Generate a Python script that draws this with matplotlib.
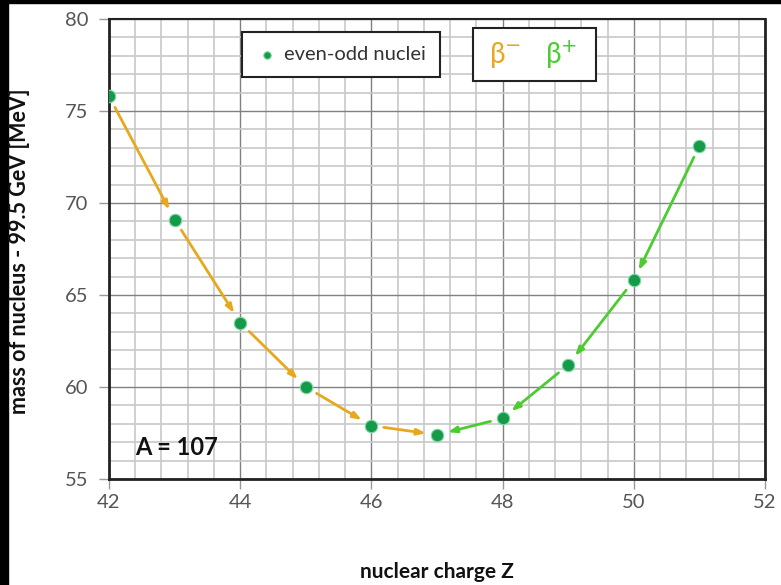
import numpy as np
import matplotlib.pyplot as plt
from matplotlib.patches import Rectangle
from matplotlib.ticker import MultipleLocator

# even-odd nuclei, A = 107
z = [42, 43, 44, 45, 46, 47, 48, 49, 50, 51]
mass = [75.8, 69.1, 63.5, 60.0, 57.9, 57.4, 58.3, 61.2, 65.8, 73.1]

beta_minus = [0, 1, 2, 3, 4]      # arrows i -> i+1
beta_plus = [9, 8, 7, 6]          # arrows i -> i-1

orange = "#E8A81E"
green = "#4CCC30"
dot = "#159A4A"

plt.rcParams['font.family'] = ['Lato', 'DejaVu Sans']

fig = plt.figure(figsize=(7.81, 5.85), dpi=100)
fig.patch.set_facecolor("white")
# dark slide background strips
fig.patches.append(Rectangle((0, 0), 8 / 781, 1, transform=fig.transFigure,
                             color="black", zorder=0))
fig.patches.append(Rectangle((0, 1 - 3 / 585), 1, 3 / 585, transform=fig.transFigure,
                             color="black", zorder=0))

ax = fig.add_axes([109 / 781, 1 - 479 / 585, (765 - 109) / 781, (479 - 19) / 585])
ax.set_xlim(42, 52)
ax.set_ylim(55, 80)

ax.xaxis.set_major_locator(MultipleLocator(2))
ax.xaxis.set_minor_locator(MultipleLocator(0.4))
ax.yaxis.set_major_locator(MultipleLocator(5))
ax.yaxis.set_minor_locator(MultipleLocator(1))
ax.grid(which="minor", color="#c8c8c8", linewidth=1.2)
ax.grid(which="major", color="#808080", linewidth=1.0)
ax.set_axisbelow(True)

for s in ax.spines.values():
    s.set_linewidth(2)
    s.set_color("#222222")
ax.spines["top"].set_linewidth(1.5)

ax.tick_params(which="major", length=7, width=1, color="#999999",
               labelsize=14.5, labelcolor="#555555")
ax.tick_params(axis="y", pad=8)
ax.tick_params(axis="x", pad=4)
ax.tick_params(which="minor", length=0)

# decay arrows
for i in beta_minus:
    ax.annotate("", xy=(z[i + 1], mass[i + 1]), xytext=(z[i], mass[i]),
                arrowprops=dict(arrowstyle="-|>,head_length=0.5,head_width=0.18",
                                color=orange, lw=2, shrinkA=9, shrinkB=8))
for i in beta_plus:
    ax.annotate("", xy=(z[i - 1], mass[i - 1]), xytext=(z[i], mass[i]),
                arrowprops=dict(arrowstyle="-|>,head_length=0.5,head_width=0.18",
                                color=green, lw=2, shrinkA=9, shrinkB=8))

pts = ax.scatter(z, mass, s=80, color=dot, edgecolor="#7fd9a0", linewidth=0.8,
                 zorder=5, label="even-odd nuclei")

leg = ax.legend(handles=[pts], loc="upper left",
                bbox_to_anchor=((242 - 109) / 656, 1 - (32 - 19) / 460),
                fancybox=False, framealpha=1, edgecolor="#222222", fontsize=14.5,
                handletextpad=0.3, borderpad=0.7, borderaxespad=0,
                markerscale=0.6, handlelength=1.1)
leg.get_frame().set_linewidth(1.5)
for t in leg.get_texts():
    t.set_color("#333333")

# beta box
ax.add_patch(Rectangle(((473 - 109) / 656, 1 - (81 - 19) / 460), 123 / 656, 53 / 460,
                       transform=ax.transAxes, facecolor="white", edgecolor="#222222",
                       linewidth=1.5, zorder=6))
ax.text((489 - 109) / 656, 1 - (55 - 19) / 460, "β$^{-}$", color=orange, fontsize=20,
        transform=ax.transAxes, va="center", zorder=7)
ax.text((545 - 109) / 656, 1 - (55 - 19) / 460, "β$^{+}$", color=green, fontsize=20,
        transform=ax.transAxes, va="center", zorder=7)

ax.text(42.4, 56.3, "A = 107", fontsize=17, fontweight="bold", color="#111111", zorder=7)

fig.text(437 / 781, 1 - 572 / 585, "nuclear charge Z", fontsize=15, fontweight="bold",
         color="#111111", ha="center", va="center")
fig.text(20 / 781, 1 - 251 / 585, "mass of nucleus - 99.5 GeV [MeV]", fontsize=15.5,
         fontweight="bold", color="#111111", ha="center", va="center", rotation=90)

fig.savefig("out.png", dpi=100)
